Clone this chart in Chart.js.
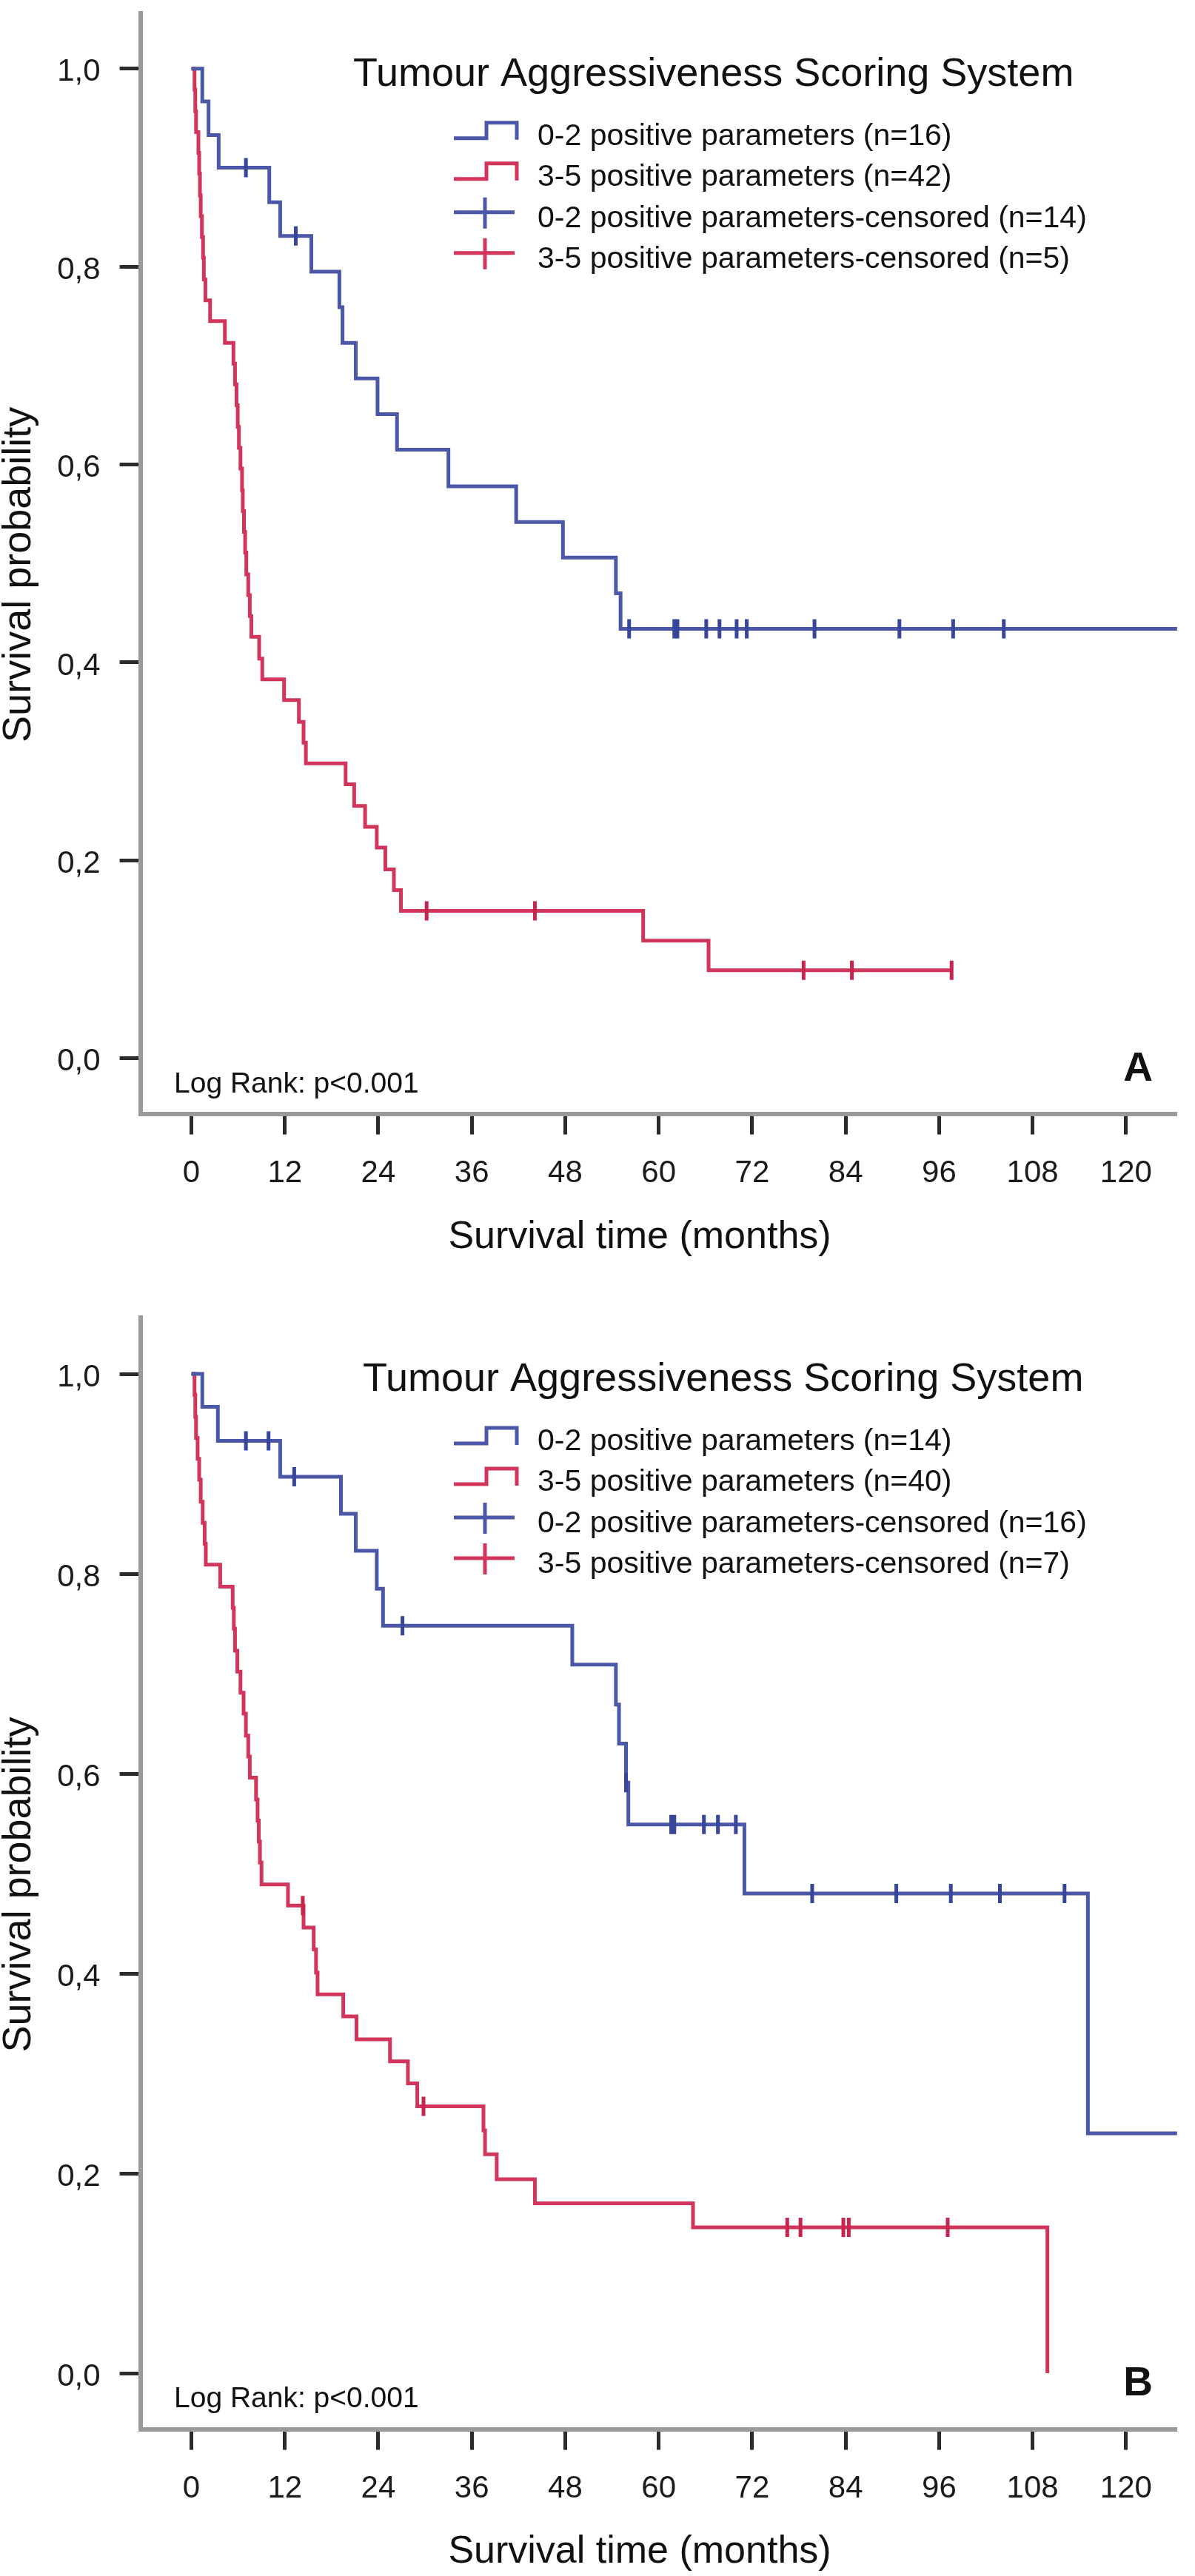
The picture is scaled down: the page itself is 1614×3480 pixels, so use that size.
<!DOCTYPE html>
<html>
<head>
<meta charset="utf-8">
<script src="https://cdn.jsdelivr.net/npm/chart.js@4.4.0/dist/chart.umd.min.js"></script>
<style>
  html, body { margin: 0; padding: 0; background: #ffffff; }
  #wrap { position: relative; width: 1614px; height: 3480px; background: #fff; }
  .panel { position: absolute; left: 0; width: 1614px; height: 1740px; }
  canvas { display: block; }
</style>
</head>
<body>
<div id="wrap">
  <div class="panel" style="top:0px"><canvas id="chartA" width="1614" height="1740"></canvas></div>
  <div class="panel" style="top:1740px"><canvas id="chartB" width="1614" height="1740"></canvas></div>
</div>
<script>
// ---------------- Axis ticks ----------------
const xTickValues = [0, 12, 24, 36, 48, 60, 72, 84, 96, 108, 120];
const xTickLabels = ["0", "12", "24", "36", "48", "60", "72", "84", "96", "108", "120"];
const yTickValues = [0.0, 0.2, 0.4, 0.6, 0.8, 1.0];
const yTickLabels = ["0,0", "0,2", "0,4", "0,6", "0,8", "1,0"];

// ---------------- Panel A data ----------------
const aBlueTime = [0, 1.4, 2.2, 3.5, 10.0, 11.4, 15.4, 19.0, 19.4, 21.1, 23.9, 26.4, 33.0, 41.7, 47.7, 54.5, 55.1, 126.6];
const aBlueSurv = [1.0, 0.967, 0.933, 0.900, 0.865, 0.831, 0.795, 0.759, 0.723, 0.687, 0.651, 0.615, 0.578, 0.542, 0.506, 0.470, 0.434, 0.434];
const aBlueCensTime = [7.0, 13.4, 56.2, 62.0, 62.4, 66.1, 67.8, 70.0, 71.3, 80.0, 90.9, 97.8, 104.3];
const aBlueCensSurv = [0.900, 0.831, 0.434, 0.434, 0.434, 0.434, 0.434, 0.434, 0.434, 0.434, 0.434, 0.434, 0.434];

const aRedTime = [0, 0.4, 0.5, 0.6, 0.9, 1.0, 1.1, 1.2, 1.35, 1.5, 1.6, 1.8, 2.4, 4.3,
  5.4, 5.6, 5.8, 5.95, 6.1, 6.3, 6.5, 6.6, 6.75, 6.9, 7.05, 7.3, 7.5, 7.7,
  8.7, 9.1, 11.9, 13.8, 14.4, 14.7, 19.8, 20.9, 22.3, 23.8, 24.9, 26.0, 26.9, 58.0, 66.4, 97.6];
const aRedSurv = [1.0, 0.979, 0.957, 0.936, 0.915, 0.894, 0.872, 0.851, 0.830, 0.809, 0.787, 0.766, 0.745, 0.723,
  0.702, 0.681, 0.660, 0.638, 0.617, 0.596, 0.574, 0.553, 0.532, 0.511, 0.489, 0.468, 0.447, 0.426,
  0.404, 0.383, 0.362, 0.340, 0.319, 0.298, 0.277, 0.255, 0.234, 0.213, 0.191, 0.170, 0.149, 0.119, 0.089, 0.089];
const aRedCensTime = [30.2, 44.1, 78.6, 84.8, 97.6];
const aRedCensSurv = [0.149, 0.149, 0.089, 0.089, 0.089];

const aLegend = ["0-2 positive parameters (n=16)", "3-5 positive parameters (n=42)",
  "0-2 positive parameters-censored (n=14)", "3-5 positive parameters-censored (n=5)"];

// ---------------- Panel B data ----------------
const bBlueTime = [0, 1.4, 3.4, 11.4, 19.2, 21.1, 23.8, 24.6, 48.9, 54.5, 54.9, 55.8, 56.1, 71.0, 115.1, 126.6];
const bBlueSurv = [1.0, 0.967, 0.933, 0.897, 0.860, 0.823, 0.785, 0.748, 0.709, 0.669, 0.630, 0.591, 0.549, 0.480, 0.240, 0.240];
const bBlueCensTime = [7.0, 9.9, 13.2, 27.1, 55.8, 61.6, 62.0, 65.8, 67.6, 69.9, 79.7, 90.5, 97.5, 103.8, 112.1];
const bBlueCensSurv = [0.933, 0.933, 0.897, 0.748, 0.591, 0.549, 0.549, 0.549, 0.549, 0.549, 0.480, 0.480, 0.480, 0.480, 0.480];

const bRedTime = [0, 0.4, 0.5, 0.6, 0.8, 1.0, 1.2, 1.45, 1.7, 1.85, 3.7,
  5.3, 5.45, 5.6, 5.9, 6.3, 6.7, 7.0, 7.3, 7.5, 8.3, 8.5, 8.65, 8.8, 9.0,
  12.4, 14.4, 15.7, 16.0, 16.2, 19.5, 21.2, 25.5, 27.8, 29.0, 37.5, 37.7, 39.2, 44.1, 64.4, 109.9];
const bRedSurv = [1.0, 0.979, 0.957, 0.936, 0.915, 0.894, 0.872, 0.851, 0.830, 0.809, 0.787,
  0.766, 0.745, 0.723, 0.702, 0.681, 0.660, 0.638, 0.617, 0.596, 0.574, 0.553, 0.532, 0.511, 0.489,
  0.468, 0.446, 0.424, 0.401, 0.379, 0.357, 0.334, 0.312, 0.290, 0.267, 0.243, 0.219, 0.194, 0.170, 0.146, 0.0];
const bRedCensTime = [14.3, 29.8, 76.5, 78.2, 83.7, 84.4, 97.1];
const bRedCensSurv = [0.468, 0.267, 0.146, 0.146, 0.146, 0.146, 0.146];

const bLegend = ["0-2 positive parameters (n=14)", "3-5 positive parameters (n=40)",
  "0-2 positive parameters-censored (n=16)", "3-5 positive parameters-censored (n=7)"];

// ---------------- Shared text ----------------
const legendTitle = "Tumour Aggressiveness Scoring System";
const xTitle = "Survival time (months)";
const yTitle = "Survival probability";
const logRankText = "Log Rank: p<0.001";

// ---------------- Styling ----------------
const FONT = '"Liberation Sans", Arial, Helvetica, sans-serif';
const BLUE = '#4b57a7';
const BLUE_MARK = '#37459b';
const RED = '#d2355b';
const RED_MARK = '#c6264e';
const X_MIN = -6.55, X_MAX = 126.55;
const Y_MIN = -0.056, Y_MAX = 1.056;

Chart.defaults.font.family = FONT;

function toXY(t, s) { return t.map((v, i) => ({ x: v, y: s[i] })); }

function textPlugin(cfg) {
  return {
    id: 'kmText' + cfg.letter,
    afterDraw(chart) {
      const ctx = chart.ctx;
      const ys = chart.scales.y;
      const y1 = ys.getPixelForValue(1);
      const y0 = ys.getPixelForValue(0);
      ctx.save();
      ctx.fillStyle = '#111111';
      ctx.textBaseline = 'alphabetic';

      // legend title
      ctx.textAlign = 'left';
      ctx.font = '54px ' + FONT;
      ctx.fillText(legendTitle, cfg.titleX, y1 + 23);

      // legend rows
      const rowOff = [103, 158, 214, 269];
      const cols = [BLUE, RED, BLUE, RED];
      ctx.font = '41px ' + FONT;
      for (let i = 0; i < 4; i++) {
        const b = y1 + rowOff[i];
        ctx.strokeStyle = cols[i];
        ctx.lineWidth = 5;
        ctx.lineJoin = 'miter';
        ctx.beginPath();
        if (i < 2) {
          ctx.moveTo(613, b - 9); ctx.lineTo(657, b - 9); ctx.lineTo(657, b - 30);
          ctx.lineTo(698, b - 30); ctx.lineTo(698, b - 7);
        } else {
          ctx.moveTo(613, b - 20); ctx.lineTo(695, b - 20);
          ctx.moveTo(655, b - 40); ctx.lineTo(655, b + 2);
        }
        ctx.stroke();
        ctx.fillStyle = '#111111';
        ctx.fillText(cfg.legend[i], 726, b);
      }

      // log rank
      ctx.font = '39px ' + FONT;
      ctx.fillText(logRankText, 235, y0 + 46);

      // panel letter
      ctx.textAlign = 'right';
      ctx.font = 'bold 55px ' + FONT;
      ctx.fillText(cfg.letter, 1557, y0 + 30);

      // x title
      ctx.textAlign = 'center';
      ctx.font = '52px ' + FONT;
      ctx.fillText(xTitle, 864, y0 + 256);

      // y title
      ctx.save();
      ctx.translate(41, (y0 + y1) / 2 + 15);
      ctx.rotate(-Math.PI / 2);
      ctx.textAlign = 'center';
      ctx.font = '54px ' + FONT;
      ctx.fillText(yTitle, 0, 0);
      ctx.restore();

      ctx.restore();
    }
  };
}

function makeChart(id, cfg) {
  const lineDs = (label, t, s, color) => ({
    label, data: toXY(t, s), showLine: true, stepped: true,
    borderColor: color, borderWidth: 5, pointRadius: 0, pointHoverRadius: 0,
    fill: false, tension: 0, order: 2
  });
  const censDs = (label, t, s, color) => ({
    label, data: toXY(t, s), showLine: false,
    pointStyle: 'line', rotation: 90, pointRadius: 13, pointHoverRadius: 13,
    pointBorderWidth: 5, borderWidth: 5, borderColor: color, pointBorderColor: color,
    backgroundColor: color, order: 1
  });
  return new Chart(document.getElementById(id), {
    type: 'scatter',
    data: {
      datasets: [
        lineDs(cfg.legend[0], cfg.blueT, cfg.blueS, BLUE),
        lineDs(cfg.legend[1], cfg.redT, cfg.redS, RED),
        censDs(cfg.legend[2], cfg.blueCT, cfg.blueCS, BLUE_MARK),
        censDs(cfg.legend[3], cfg.redCT, cfg.redCS, RED_MARK)
      ]
    },
    options: {
      responsive: false,
      animation: false,
      devicePixelRatio: 1,
      events: [],
      layout: { padding: { top: cfg.padTop, bottom: cfg.padBottom, left: 0, right: 24.2 } },
      plugins: { legend: { display: false }, tooltip: { enabled: false }, title: { display: false } },
      scales: {
        x: {
          type: 'linear', min: X_MIN, max: X_MAX,
          afterBuildTicks: (s) => { s.ticks = xTickValues.map(v => ({ value: v })); },
          afterFit: (s) => { s.height = 100; s.paddingLeft = 0; s.paddingRight = 0; },
          ticks: {
            font: { family: FONT, size: 42 }, color: '#1a1a1a', padding: 28,
            maxRotation: 0, minRotation: 0, autoSkip: false,
            callback: (v, i) => xTickLabels[i]
          },
          grid: { drawOnChartArea: false, drawTicks: true, tickLength: 28, tickWidth: 5, tickColor: '#2b2b2b' },
          border: { display: true, color: '#9a9a9a', width: 6 }
        },
        y: {
          type: 'linear', min: Y_MIN, max: Y_MAX,
          afterBuildTicks: (s) => { s.ticks = yTickValues.map(v => ({ value: v })); },
          afterFit: (s) => { s.width = 189.6; s.paddingTop = 0; s.paddingBottom = 0; },
          ticks: {
            font: { family: FONT, size: 42 }, color: '#1a1a1a', padding: 26, labelOffset: 5,
            autoSkip: false, callback: (v, i) => yTickLabels[i]
          },
          grid: { drawOnChartArea: false, drawTicks: true, tickLength: 28, tickWidth: 5, tickColor: '#2b2b2b' },
          border: { display: true, color: '#9a9a9a', width: 6 }
        }
      }
    },
    plugins: [textPlugin(cfg)]
  });
}

makeChart('chartA', {
  letter: 'A', titleX: 477, padTop: 3.4, padBottom: 135.4, legend: aLegend,
  blueT: aBlueTime, blueS: aBlueSurv, redT: aRedTime, redS: aRedSurv,
  blueCT: aBlueCensTime, blueCS: aBlueCensSurv, redCT: aRedCensTime, redCS: aRedCensSurv
});
makeChart('chartB', {
  letter: 'B', titleX: 490, padTop: 40.4, padBottom: 98.4, legend: bLegend,
  blueT: bBlueTime, blueS: bBlueSurv, redT: bRedTime, redS: bRedSurv,
  blueCT: bBlueCensTime, blueCS: bBlueCensSurv, redCT: bRedCensTime, redCS: bRedCensSurv
});
</script>
</body>
</html>
